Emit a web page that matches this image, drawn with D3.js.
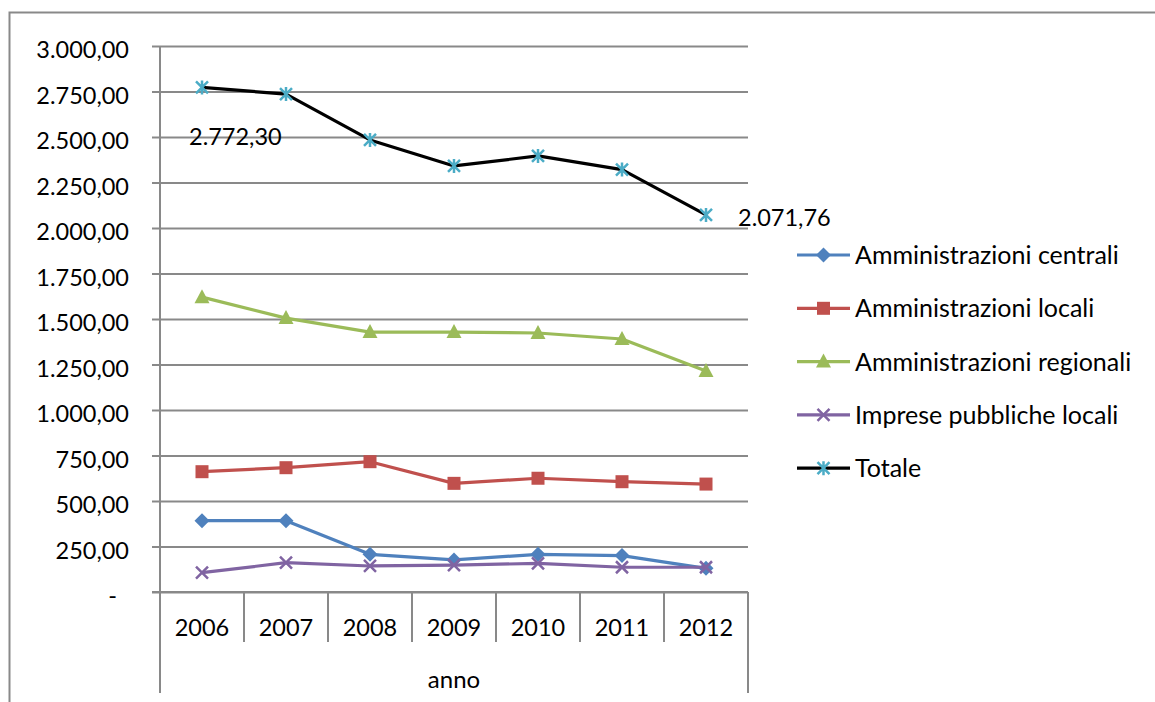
<!DOCTYPE html>
<html>
<head>
<meta charset="utf-8">
<script src="https://cdn.jsdelivr.net/npm/d3@7"></script>
<style>
  html, body { margin: 0; padding: 0; background: #fff; }
  svg { display: block; }
  text { font-family: Lato, "Open Sans", sans-serif; fill: #000; }
</style>
</head>
<body>
<svg id="chart" width="1155" height="702"></svg>
<script>
// ---------------- DATA ----------------
const years = ["2006", "2007", "2008", "2009", "2010", "2011", "2012"];
const seriesNames = [
  "Amministrazioni centrali",
  "Amministrazioni locali",
  "Amministrazioni regionali",
  "Imprese pubbliche locali",
  "Totale"
];
const ammCentrali   = [392, 392, 207, 176, 207, 200, 130];
const ammLocali     = [661, 683, 716, 597, 625, 606, 593];
const ammRegionali  = [1620, 1505, 1428, 1428, 1423, 1390, 1214];
const impresePubbl  = [106, 161, 143, 148, 157, 136, 136];
const totale        = [2772.30, 2736, 2484, 2341, 2396, 2321, 2071.76];
const yTickValues   = [0, 250, 500, 750, 1000, 1250, 1500, 1750, 2000, 2250, 2500, 2750, 3000];
const yTickLabels   = ["-", "250,00", "500,00", "750,00", "1.000,00", "1.250,00", "1.500,00",
                       "1.750,00", "2.000,00", "2.250,00", "2.500,00", "2.750,00", "3.000,00"];
const dataLabels    = ["2.772,30", "2.071,76"];
const xTitle = "anno";

// ---------------- STYLE ----------------
const colors  = ["#4F81BD", "#C0504D", "#9BBB59", "#8064A2", "#000000"];
const markerColors = ["#4F81BD", "#C0504D", "#9BBB59", "#8064A2", "#4BACC6"];
const markers = ["diamond", "square", "triangle", "x", "star"];
const gridColor = "#898989";
const FS = 23.5;      // numeric labels
const FS_LEG = 25;    // legend text
const FS_TITLE = 24;  // axis title

const allSeries = [ammCentrali, ammLocali, ammRegionali, impresePubbl, totale];

const svg = d3.select("#chart");

// outer frame
svg.append("rect").attr("x", 9.5).attr("y", 12.5).attr("width", 1200).attr("height", 800)
  .attr("fill", "#fff").attr("stroke", gridColor).attr("stroke-width", 2);

const plotLeft = 160, plotRight = 748, plotTop = 46, plotBottom = 592;
const x = d3.scaleBand().domain(years).range([plotLeft, plotRight]);
const y = d3.scaleLinear().domain([0, 3000]).range([plotBottom, plotTop]);

// gridlines + ticks (axis)
const yAxis = d3.axisLeft(y).tickValues(yTickValues)
  .tickSize(-(plotRight - plotLeft))
  .tickFormat((d, i) => yTickLabels[i])
  .tickPadding(31);
const gy = svg.append("g").attr("transform", `translate(${plotLeft},0)`).call(yAxis);
gy.select(".domain").remove();
gy.selectAll(".tick line").attr("stroke", gridColor).attr("stroke-width", 2)
  .attr("x1", -8);
gy.selectAll(".tick text").attr("font-size", FS).attr("font-family", "Lato, sans-serif")
  .attr("fill", "#000").attr("dy", "0.5em");
gy.selectAll(".tick").filter(d => d === 0).select("text").attr("dx", -12);

// y axis vertical line (extends through category area)
svg.append("line").attr("x1", plotLeft).attr("x2", plotLeft).attr("y1", plotTop).attr("y2", 693)
  .attr("stroke", gridColor).attr("stroke-width", 2);
svg.append("line").attr("x1", plotRight).attr("x2", plotRight).attr("y1", plotBottom).attr("y2", 693)
  .attr("stroke", gridColor).attr("stroke-width", 2);

// x axis: baseline and category separators
const xAxis = d3.axisBottom(x).tickSize(0).tickPadding(27);
const gx = svg.append("g").attr("transform", `translate(0,${plotBottom})`).call(xAxis);
gx.select(".domain").remove();
gx.selectAll(".tick text").attr("font-size", FS).attr("font-family", "Lato, sans-serif")
  .attr("fill", "#000").attr("dy", "0.71em");
svg.append("line").attr("x1", plotLeft - 8).attr("x2", plotRight).attr("y1", plotBottom).attr("y2", plotBottom)
  .attr("stroke", gridColor).attr("stroke-width", 2);
svg.append("g").selectAll("line").data(years.slice(1)).join("line")
  .attr("x1", d => x(d)).attr("x2", d => x(d))
  .attr("y1", plotBottom).attr("y2", 642)
  .attr("stroke", gridColor).attr("stroke-width", 2);

svg.append("text").attr("x", (plotLeft + plotRight) / 2).attr("y", 688)
  .attr("text-anchor", "middle").attr("font-size", FS_TITLE).text(xTitle);

// ---------------- MARKERS ----------------
function drawMarker(g, type, color, cx, cy) {
  if (type === "diamond") {
    g.append("path").attr("d", `M${cx},${cy-7.5}L${cx+7.5},${cy}L${cx},${cy+7.5}L${cx-7.5},${cy}Z`).attr("fill", color);
  } else if (type === "square") {
    g.append("rect").attr("x", cx - 6.5).attr("y", cy - 6.5).attr("width", 13).attr("height", 13).attr("fill", color);
  } else if (type === "triangle") {
    g.append("path").attr("d", `M${cx},${cy-8}L${cx+7.5},${cy+6}L${cx-7.5},${cy+6}Z`).attr("fill", color);
  } else if (type === "x") {
    g.append("path").attr("d", `M${cx-6},${cy-6}L${cx+6},${cy+6}M${cx-6},${cy+6}L${cx+6},${cy-6}`)
      .attr("stroke", color).attr("stroke-width", 2.5);
  } else if (type === "star") {
    g.append("path").attr("d", `M${cx-6},${cy-6}L${cx+6},${cy+6}M${cx-6},${cy+6}L${cx+6},${cy-6}M${cx},${cy-7}L${cx},${cy+7}`)
      .attr("stroke", color).attr("stroke-width", 2.5);
  }
}

// ---------------- LINES ----------------
const cxOf = i => x(years[i]) + x.bandwidth() / 2;
const line = d3.line().x((d, i) => cxOf(i)).y(d => y(d));
allSeries.forEach((vals, si) => {
  const g = svg.append("g");
  g.append("path").datum(vals).attr("d", line).attr("fill", "none")
    .attr("stroke", colors[si]).attr("stroke-width", 3.2).attr("stroke-linejoin", "round");
  vals.forEach((v, i) => drawMarker(g, markers[si], markerColors[si], cxOf(i), y(v)));
});

// data labels
svg.append("text").attr("x", cxOf(0) - 13).attr("y", y(totale[0]) + 58)
  .attr("font-size", FS).text(dataLabels[0]);
svg.append("text").attr("x", cxOf(6) + 32).attr("y", y(totale[6]) + 11)
  .attr("font-size", FS).text(dataLabels[1]);

// ---------------- LEGEND ----------------
const leg = svg.append("g");
seriesNames.forEach((name, i) => {
  const ly = 255 + i * 53.3;
  leg.append("line").attr("x1", 797).attr("x2", 850).attr("y1", ly).attr("y2", ly)
    .attr("stroke", colors[i]).attr("stroke-width", 3.2);
  drawMarker(leg, markers[i], markerColors[i], 823.5, ly);
  leg.append("text").attr("x", 855).attr("y", ly).attr("dy", "0.36em")
    .attr("font-size", FS_LEG).text(name);
});
</script>
</body>
</html>
